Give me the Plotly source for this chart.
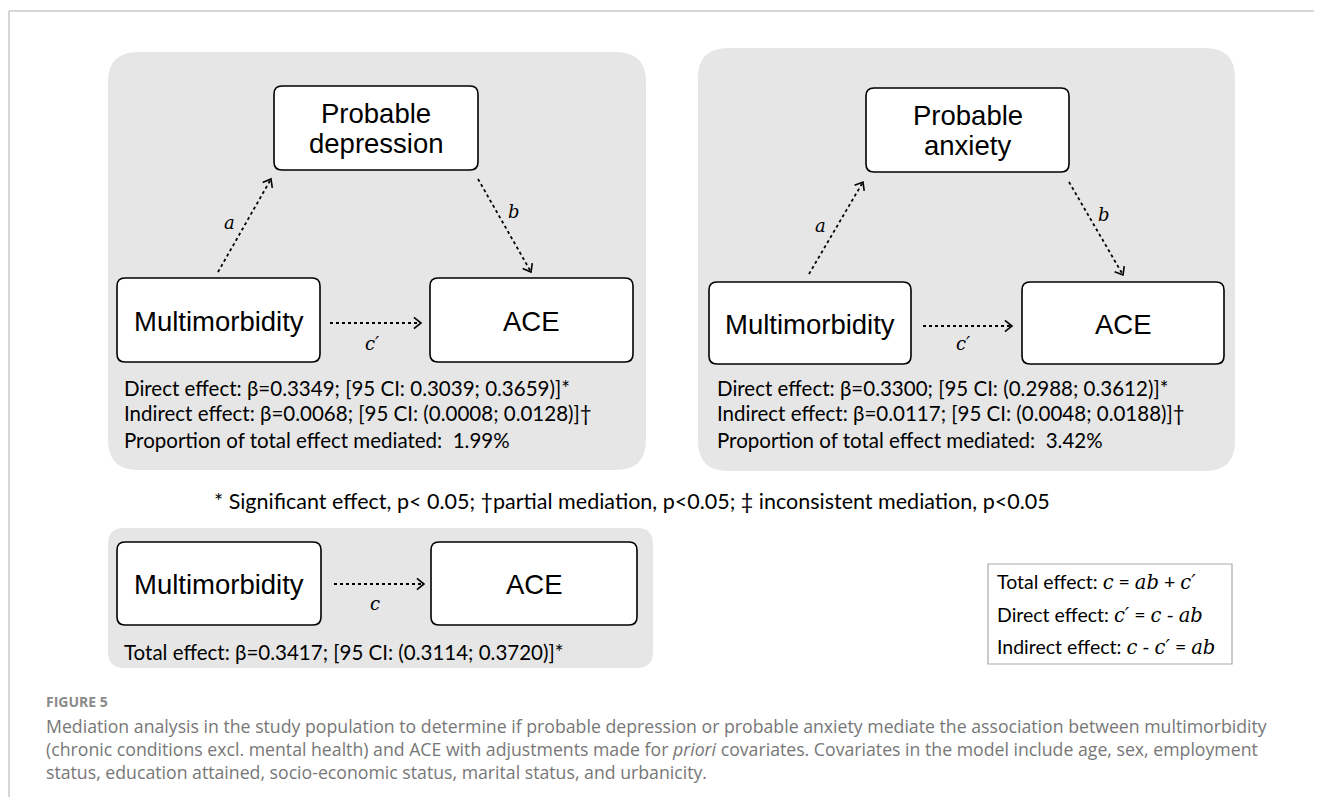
import math
import plotly.graph_objects as go

W, H = 1322, 805
OFF = 8  # default body margin of the written html page

# ---------------- content ----------------
mediators = [["Probable", "depression"], ["Probable", "anxiety"]]
predictor = "Multimorbidity"
outcome = "ACE"
direct_effect = ["Direct effect: β=0.3349; [95 CI: 0.3039; 0.3659)]*",
                 "Direct effect: β=0.3300; [95 CI: (0.2988; 0.3612)]*"]
indirect_effect = ["Indirect effect: β=0.0068; [95 CI: (0.0008; 0.0128)]†",
                   "Indirect effect: β=0.0117; [95 CI: (0.0048; 0.0188)]†"]
proportion = ["Proportion of total effect mediated:  1.99%",
              "Proportion of total effect mediated:  3.42%"]
total_effect = "Total effect: β=0.3417; [95 CI: (0.3114; 0.3720)]*"
footnote = "* Significant effect, p< 0.05; †partial mediation, p<0.05; ‡ inconsistent mediation, p<0.05"
path_labels = {"a": "a", "b": "b", "cp": "c′", "c": "c"}
SERIF = "font-family:'DejaVu Serif';font-style:italic"
def m(s):
    return f"<span style=\"{SERIF}\">{s}</span>"
formulas = [f"Total effect: {m('c')} = {m('ab')} + {m('c′')}",
            f"Direct effect: {m('c′')} = {m('c')} - {m('ab')}",
            f"Indirect effect: {m('c')} - {m('c′')} = {m('ab')}"]
caption_head = "FIGURE 5"
caption_lines = [
    "Mediation analysis in the study population to determine if probable depression or probable anxiety mediate the association between multimorbidity",
    "(chronic conditions excl. mental health) and ACE with adjustments made for <i>priori</i> covariates. Covariates in the model include age, sex, employment",
    "status, education attained, socio-economic status, marital status, and urbanicity.",
]

# ---------------- geometry (page pixels) ----------------
panels = [(108, 52, 646, 470, 30), (698, 48, 1235, 471, 30), (108, 528, 653, 668, 16)]
med_boxes = [(274, 86, 478, 170), (866, 88, 1069, 172)]
x_boxes = [(117, 278, 320, 362), (709, 282, 911, 364), (117, 542, 321, 625)]
y_boxes = [(430, 278, 633, 362), (1022, 282, 1224, 364), (431, 542, 637, 625)]
arrows_a = [((218, 272), (271, 179)), ((809, 274), (863, 182))]
arrows_b = [((478, 179), (531, 272)), ((1069, 182), (1123, 275))]
arrows_c = [((330, 323), (421, 323)), ((923, 326), (1012, 326)), ((334, 584), (424, 584))]
lab_a = [(229, 222), (820, 225)]
lab_b = [(514, 211), (1104, 214)]
lab_c = [(372, 343), (963, 343), (375, 603)]
text_rows_y = [388, 413, 440]
text_x = [122, 715]
formula_box = (988, 564, 1232, 664)

fig = go.Figure()
shapes = []
annos = []


def rrect(x0, y0, x1, y1, r):
    return (f"M {x0+r},{y0} L {x1-r},{y0} Q {x1},{y0} {x1},{y0+r} L {x1},{y1-r} "
            f"Q {x1},{y1} {x1-r},{y1} L {x0+r},{y1} Q {x0},{y1} {x0},{y1-r} "
            f"L {x0},{y0+r} Q {x0},{y0} {x0+r},{y0} Z")


def arrow(p0, p1):
    (x0, y0), (x1, y1) = p0, p1
    shapes.append(dict(type="line", x0=x0, y0=y0, x1=x1, y1=y1,
                       line=dict(color="black", width=1.8, dash="dot")))
    ang = math.atan2(y1 - y0, x1 - x0)
    L = 9
    pts = []
    for s in (1, -1):
        a = ang + math.pi + s * math.radians(38)
        pts.append((x1 + L * math.cos(a), y1 + L * math.sin(a)))
    shapes.append(dict(type="path",
                       path=f"M {pts[0][0]},{pts[0][1]} L {x1},{y1} L {pts[1][0]},{pts[1][1]}",
                       line=dict(color="black", width=1.6)))


def text(x, y, s, size, color="black", family="Lato", anchor="left", yanchor="middle"):
    annos.append(dict(x=x, y=y, text=s, showarrow=False, xanchor=anchor, yanchor=yanchor,
                      font=dict(size=size, color=color, family=family)))


# outer frame
shapes.append(dict(type="line", x0=9, y0=11, x1=W, y1=11, line=dict(color="#c8c8c8", width=1.5)))
shapes.append(dict(type="line", x0=9, y0=11, x1=9, y1=H, line=dict(color="#c8c8c8", width=1.5)))

for (x0, y0, x1, y1, r) in panels:
    shapes.append(dict(type="path", path=rrect(x0, y0, x1, y1, r), fillcolor="#e6e6e6",
                       line=dict(width=0), layer="below"))

for bx in med_boxes + x_boxes + y_boxes:
    shapes.append(dict(type="path", path=rrect(*bx, 8), fillcolor="white",
                       line=dict(color="black", width=1.6)))

BOXFONT = "Liberation Sans"
BS = 27.5
for i, bx in enumerate(med_boxes):
    cx = (bx[0] + bx[2]) / 2
    cy = (bx[1] + bx[3]) / 2
    text(cx, cy - 15, mediators[i][0], BS, family=BOXFONT, anchor="center")
    text(cx, cy + 15, mediators[i][1], BS, family=BOXFONT, anchor="center")
for bx in x_boxes:
    text((bx[0] + bx[2]) / 2, (bx[1] + bx[3]) / 2 + 1, predictor, BS, family=BOXFONT, anchor="center")
for bx in y_boxes:
    text((bx[0] + bx[2]) / 2, (bx[1] + bx[3]) / 2 + 1, outcome, BS, family=BOXFONT, anchor="center")

for p0, p1 in arrows_a + arrows_b + arrows_c:
    arrow(p0, p1)

LABFONT = "DejaVu Serif"
for (x, y) in lab_a:
    text(x, y, f"<i>{path_labels['a']}</i>", 18, family=LABFONT, anchor="center")
for (x, y) in lab_b:
    text(x, y, f"<i>{path_labels['b']}</i>", 18, family=LABFONT, anchor="center")
for k, (x, y) in enumerate(lab_c):
    lab = path_labels['c'] if k == 2 else path_labels['cp']
    text(x, y, f"<i>{lab}</i>", 18, family=LABFONT, anchor="center")

TS = 20.5
for i in range(2):
    for row, s in zip(text_rows_y, [direct_effect[i], indirect_effect[i], proportion[i]]):
        text(text_x[i], row, s, TS)
text(122, 652, total_effect, TS)
text(632, 501, footnote, 21.5, anchor="center")

# formula legend box
fx0, fy0, fx1, fy1 = formula_box
shapes.append(dict(type="rect", x0=fx0, y0=fy0, x1=fx1, y1=fy1, fillcolor="white",
                   line=dict(color="#aaaaaa", width=1.2)))
for s, y in zip(formulas, [582, 615, 647]):
    text(fx0 + 7, y, s, 19.5)

# caption
text(44, 701, f"<b>{caption_head}</b>", 14, color="#8a8a8a", family="Open Sans")
for s, y in zip(caption_lines, [726, 749, 772]):
    text(44, y, s, 17.7, color="#777777", family="Open Sans")

fig.update_layout(
    width=W - 2 * OFF, height=H - 2 * OFF,
    margin=dict(l=0, r=0, t=0, b=0),
    paper_bgcolor="white", plot_bgcolor="white",
    xaxis=dict(range=[OFF, W - OFF], visible=False, fixedrange=True),
    yaxis=dict(range=[H - OFF, OFF], visible=False, fixedrange=True),
    shapes=shapes, annotations=annos, showlegend=False,
)
fig.write_html("out.html")
